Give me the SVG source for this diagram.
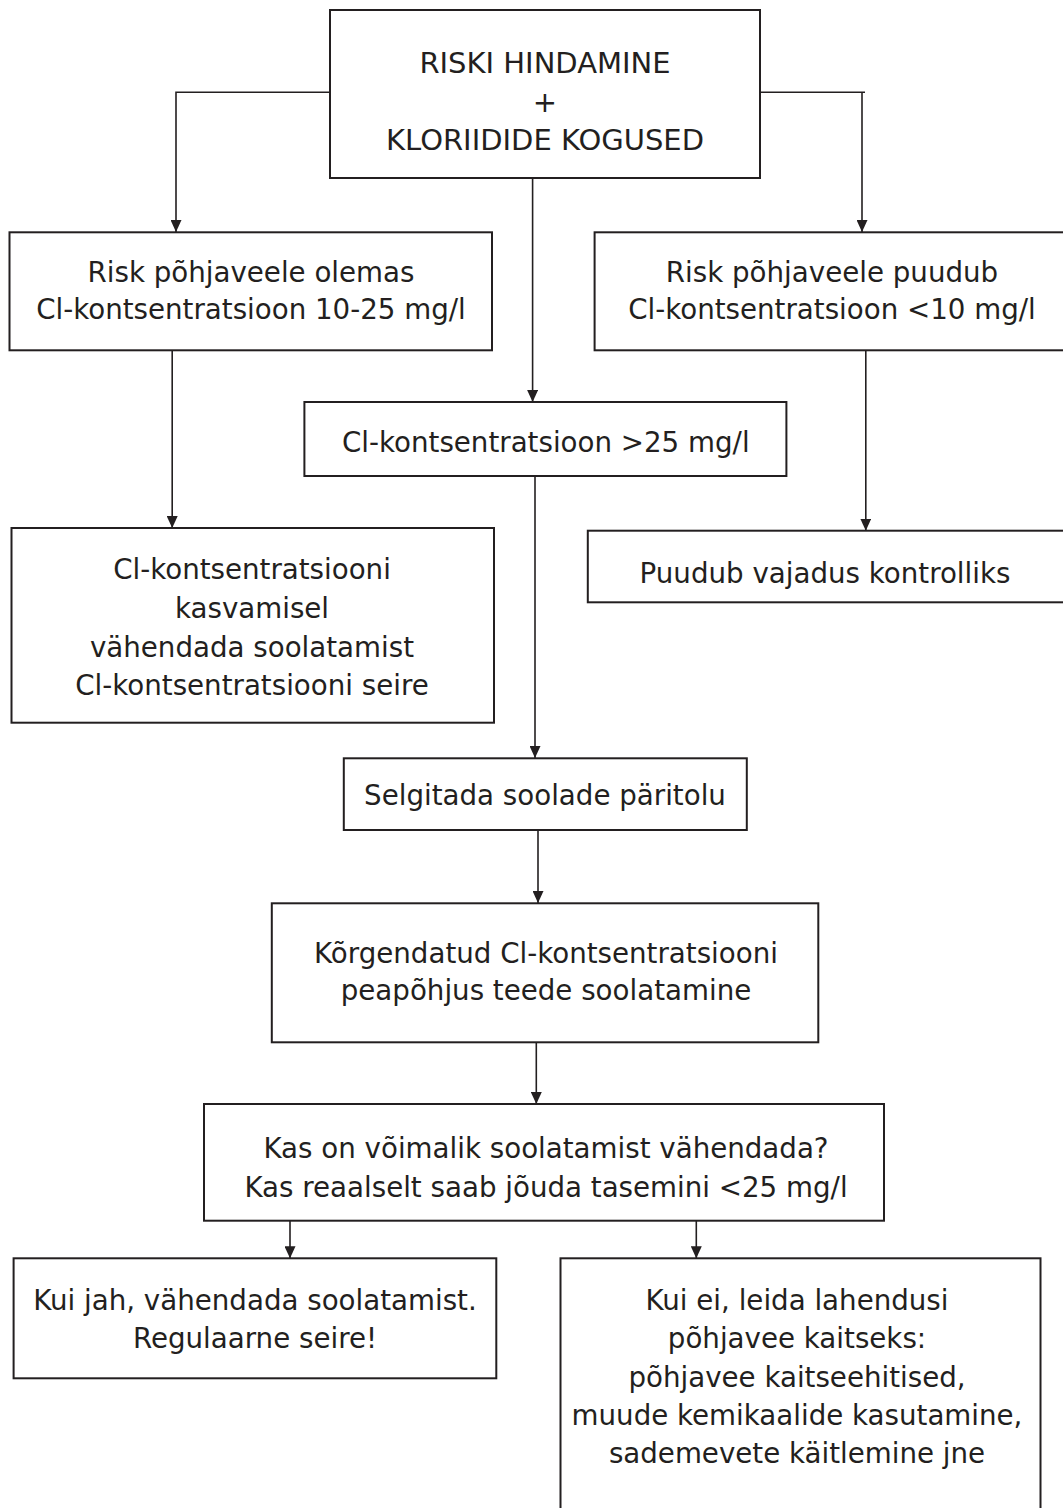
<svg xmlns="http://www.w3.org/2000/svg" width="1063" height="1508" viewBox="0 0 1063 1508">
<defs>
<style>
.box{fill:#fff;stroke:#231f20;stroke-width:2}
.t{font-family:"DejaVu Sans","Liberation Sans",sans-serif;font-size:27.7px;fill:#231f20;text-anchor:middle}
.big{font-size:29px}
.c{fill:none;stroke:#231f20;stroke-width:1.6}
</style>
<marker id="ah" markerUnits="userSpaceOnUse" markerWidth="12" markerHeight="11" refX="12" refY="5.5" orient="auto" viewBox="0 0 12 11">
<path d="M0,0 L12,5.5 L0,11 z" fill="#231f20"/>
</marker>
</defs>
<rect width="1063" height="1508" fill="#fff"/>
<g id="connectors">
<path class="c" d="M330,92.3 H176 V232" marker-end="url(#ah)"/>
<path class="c" d="M760,92.3 H865"/>
<path class="c" d="M862,92.3 V232" marker-end="url(#ah)"/>
<path class="c" d="M532.6,178 V402" marker-end="url(#ah)"/>
<path class="c" d="M172.2,350.3 V528" marker-end="url(#ah)"/>
<path class="c" d="M865.8,350.3 V530.7" marker-end="url(#ah)"/>
<path class="c" d="M535,476 V758" marker-end="url(#ah)"/>
<path class="c" d="M538,830 V903" marker-end="url(#ah)"/>
<path class="c" d="M536.3,1042.3 V1104" marker-end="url(#ah)"/>
<path class="c" d="M290,1220.7 V1258.3" marker-end="url(#ah)"/>
<path class="c" d="M696.3,1220.7 V1258.3" marker-end="url(#ah)"/>
</g>
<g id="n-top">
<rect class="box" x="330" y="10" width="430" height="168"/>
<text class="t big" x="545" y="72.7">RISKI HINDAMINE</text>
<text class="t big" x="545" y="112">+</text>
<text class="t big" x="545" y="150">KLORIIDIDE KOGUSED</text>
</g>
<g id="n-risk-olemas">
<rect class="box" x="9.5" y="232.3" width="482.5" height="118"/>
<text class="t" x="251" y="281.7">Risk põhjaveele olemas</text>
<text class="t" x="251" y="319.3">Cl-kontsentratsioon 10-25 mg/l</text>
</g>
<g id="n-risk-puudub">
<rect class="box" x="594.6" y="232.3" width="480" height="118"/>
<text class="t" x="832" y="281.7">Risk põhjaveele puudub</text>
<text class="t" x="832" y="319.3">Cl-kontsentratsioon &lt;10 mg/l</text>
</g>
<g id="n-over25">
<rect class="box" x="304.4" y="402" width="482" height="74"/>
<text class="t" x="545.8" y="452">Cl-kontsentratsioon &gt;25 mg/l</text>
</g>
<g id="n-kasvamisel">
<rect class="box" x="11.5" y="528" width="482.5" height="194.7"/>
<text class="t" x="252" y="579">Cl-kontsentratsiooni</text>
<text class="t" x="252" y="617.7">kasvamisel</text>
<text class="t" x="252" y="656.7">vähendada soolatamist</text>
<text class="t" x="252" y="695">Cl-kontsentratsiooni seire</text>
</g>
<g id="n-puudub-vajadus">
<rect class="box" x="587.8" y="530.7" width="480" height="71.6"/>
<text class="t" x="825" y="583">Puudub vajadus kontrolliks</text>
</g>
<g id="n-selgitada">
<rect class="box" x="343.8" y="758.3" width="403" height="71.7"/>
<text class="t" x="545" y="805">Selgitada soolade päritolu</text>
</g>
<g id="n-korgendatud">
<rect class="box" x="271.8" y="903.3" width="546.5" height="139"/>
<text class="t" x="546" y="962.7">Kõrgendatud Cl-kontsentratsiooni</text>
<text class="t" x="546" y="1000">peapõhjus teede soolatamine</text>
</g>
<g id="n-kas">
<rect class="box" x="204" y="1104" width="680" height="116.7"/>
<text class="t" x="546" y="1158.3">Kas on võimalik soolatamist vähendada?</text>
<text class="t" x="546" y="1196.7">Kas reaalselt saab jõuda tasemini &lt;25 mg/l</text>
</g>
<g id="n-jah">
<rect class="box" x="13.6" y="1258.3" width="482.7" height="120"/>
<text class="t" x="255" y="1310">Kui jah, vähendada soolatamist.</text>
<text class="t" x="255" y="1348.3">Regulaarne seire!</text>
</g>
<g id="n-ei">
<rect class="box" x="560.5" y="1258.3" width="480" height="270"/>
<text class="t" x="797" y="1310">Kui ei, leida lahendusi</text>
<text class="t" x="797" y="1348.3">põhjavee kaitseks:</text>
<text class="t" x="797" y="1386.7">põhjavee kaitseehitised,</text>
<text class="t" x="797" y="1425">muude kemikaalide kasutamine,</text>
<text class="t" x="797" y="1463.3">sademevete käitlemine jne</text>
</g>
</svg>
